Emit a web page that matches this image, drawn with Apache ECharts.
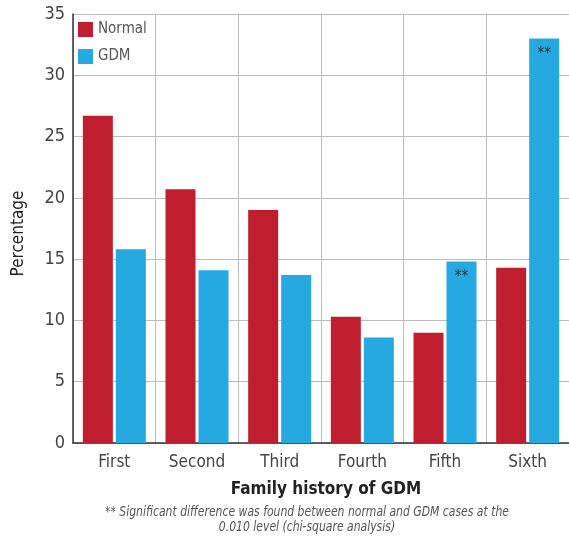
<!DOCTYPE html>
<html>
<head>
<meta charset="utf-8">
<script src="https://cdn.jsdelivr.net/npm/echarts@6/dist/echarts.min.js"></script>
<style>
  html, body { margin: 0; padding: 0; background: #fff; }
  #chart { width: 569px; height: 539px; }
</style>
</head>
<body>
<div id="chart"></div>
<script>
// Family history position of GDM
const categories = ['First', 'Second', 'Third', 'Fourth', 'Fifth', 'Sixth'];
const normalValues = [26.7, 20.7, 19.0, 10.3, 9.0, 14.3];
const gdmValues = [15.8, 14.1, 13.7, 8.6, 14.8, 33.0];
// significance markers (chi-square, p < 0.010)
const gdmMarks = ['', '', '', '', '**', '**'];
const yTicks = [0, 5, 10, 15, 20, 25, 30, 35];

const FONT = '"DejaVu Sans Condensed", "Liberation Sans Narrow", "Roboto", sans-serif';
const chart = echarts.init(document.getElementById('chart'), null, { renderer: 'canvas' });

chart.setOption({
  animation: false,
  textStyle: { fontFamily: FONT },
  grid: { left: 73, right: -4, top: 14, bottom: 96 },
  legend: {
    orient: 'vertical',
    left: 73,
    top: 17,
    itemWidth: 15,
    itemHeight: 15,
    itemGap: 12,
    icon: 'rect',
    textStyle: { fontFamily: FONT, fontSize: 15, color: '#555' },
    data: ['Normal', 'GDM']
  },
  xAxis: {
    type: 'category',
    data: categories,
    name: 'Family history of GDM',
    nameLocation: 'middle',
    nameGap: 38,
    nameTextStyle: { fontFamily: FONT, fontSize: 17, fontWeight: 'bold', color: '#222', padding: [0, 0, 0, 10] },
    axisLine: { lineStyle: { color: '#333', width: 1.5 } },
    axisTick: { show: false },
    axisLabel: { fontFamily: FONT, fontSize: 17, color: '#444', margin: 11 },
    splitLine: { show: true, lineStyle: { color: '#bdbdbd', width: 1 } }
  },
  yAxis: {
    type: 'value',
    min: yTicks[0],
    max: yTicks[yTicks.length - 1],
    interval: yTicks[1] - yTicks[0],
    name: 'Percentage',
    nameLocation: 'middle',
    nameGap: 46,
    nameTextStyle: { fontFamily: FONT, fontSize: 17, color: '#222', padding: [0, 0, 0, -10] },
    axisLine: { show: true, lineStyle: { color: '#333', width: 1.5 } },
    axisTick: { show: false },
    axisLabel: { fontFamily: FONT, fontSize: 18, color: '#444', margin: 8 },
    splitLine: { show: true, lineStyle: { color: '#bdbdbd', width: 1 } }
  },
  series: [
    {
      name: 'Normal',
      type: 'bar',
      data: normalValues,
      barWidth: 30,
      barGap: '10%',
      itemStyle: { color: '#BE1E2D' }
    },
    {
      name: 'GDM',
      type: 'bar',
      data: gdmValues,
      barWidth: 30,
      itemStyle: { color: '#25A9E0' },
      label: {
        show: true,
        position: 'insideTop',
        distance: 8,
        fontFamily: FONT,
        fontSize: 15,
        color: '#333',
        formatter: p => gdmMarks[p.dataIndex]
      }
    }
  ],
  graphic: [
    {
      type: 'text',
      x: 307,
      y: 505,
      scaleX: 0.86,
      style: {
        text: '** Significant difference was found between normal and GDM cases at the\n0.010 level (chi-square analysis)',
        fontFamily: FONT,
        fontSize: 14,
        fontStyle: 'italic',
        fill: '#555',
        align: 'center',
        lineHeight: 15
      }
    }
  ]
});
</script>
</body>
</html>
